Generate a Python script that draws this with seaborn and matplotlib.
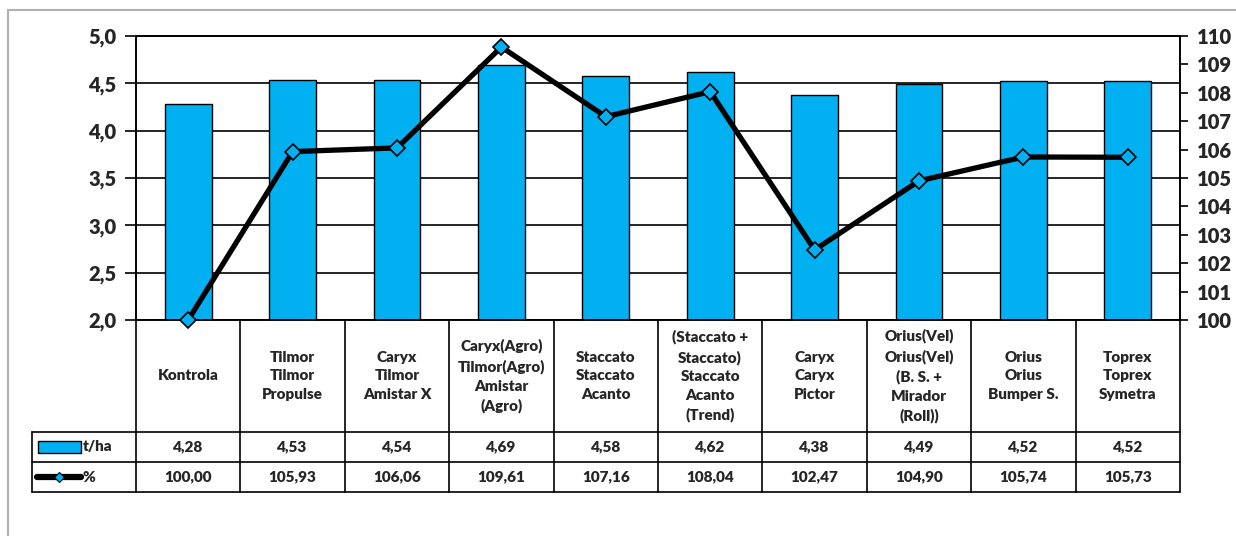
import numpy as np
import pandas as pd
import seaborn as sns
import matplotlib.pyplot as plt
from matplotlib.transforms import blended_transform_factory
from matplotlib.patches import Rectangle
from matplotlib.lines import Line2D

# -----------------------------
# data
# -----------------------------
treatments = [
    "Kontrola",
    "Tilmor\nTilmor\nPropulse",
    "Caryx\nTilmor\nAmistar X",
    "Caryx(Agro)\nTilmor(Agro)\nAmistar\n(Agro)",
    "Staccato\nStaccato\nAcanto",
    "(Staccato +\nStaccato)\nStaccato\nAcanto\n(Trend)",
    "Caryx\nCaryx\nPictor",
    "Orius(Vel)\nOrius(Vel)\n(B. S. +\nMirador\n(Roll))",
    "Orius\nOrius\nBumper S.",
    "Toprex\nToprex\nSymetra",
]
yield_tha = [4.28, 4.53, 4.54, 4.69, 4.58, 4.62, 4.38, 4.49, 4.52, 4.52]
yield_pct = [100.00, 105.93, 106.06, 109.61, 107.16, 108.04, 102.47, 104.90, 105.74, 105.73]
left_ticks = [2.0, 2.5, 3.0, 3.5, 4.0, 4.5, 5.0]
right_ticks = list(range(100, 111))

df = pd.DataFrame({"pos": np.arange(len(treatments)), "tha": yield_tha, "pct": yield_pct})

BLUE = "#00B0F0"

sns.set_style("white")
plt.rcParams["font.family"] = ["Lato", "DejaVu Sans"]
plt.rcParams["font.weight"] = "bold"

fig = plt.figure(figsize=(12.36, 5.36), dpi=100)
W, H = 1236, 536
ax = fig.add_axes([136 / W, 1 - 320 / H, (1180 - 136) / W, (320 - 36) / H])

# outer grey frame
fig.patches.append(Rectangle((8 / W, -0.1), 1.2, 1 - 10 / H + 0.1, transform=fig.transFigure,
                             fill=False, edgecolor="#b0b0b0", lw=1.5))

# -----------------------------
# bars (t/ha)
# -----------------------------
sns.barplot(data=df, x="pos", y="tha", color=BLUE, saturation=1, width=0.45,
            edgecolor="black", linewidth=1, ax=ax, zorder=2)
ax.set_xlim(-0.5, 9.5)
ax.set_ylim(2.0, 5.0)
ax.set_yticks(left_ticks)
ax.set_yticklabels([f"{v:.1f}".replace(".", ",") for v in left_ticks], fontsize=14.5, fontweight="heavy")
ax.yaxis.grid(True, color="black", lw=1.2, zorder=0)
ax.set_axisbelow(True)
ax.set_xticks([])
ax.set_xlabel("")
ax.set_ylabel("")
ax.tick_params(axis="y", length=8, width=1.2, color="black", pad=6)
for s in ax.spines.values():
    s.set_color("black")
    s.set_linewidth(1.2)

# -----------------------------
# line (%)
# -----------------------------
ax2 = ax.twinx()
sns.lineplot(data=df, x="pos", y="pct", color="black", lw=3.8, marker="D", markersize=8,
             markerfacecolor=BLUE, markeredgecolor="black", markeredgewidth=1.2, ax=ax2,
             clip_on=False, zorder=5)
ax2.set_ylim(100, 110)
ax2.set_yticks(right_ticks)
ax2.set_yticklabels([str(v) for v in right_ticks], fontsize=14.5, fontweight="heavy")
ax2.tick_params(axis="y", length=6, width=1.2, color="black", pad=6)
ax2.set_xlim(-0.5, 9.5)
ax2.set_ylabel("")
ax2.set_xlabel("")
for s in ax2.spines.values():
    s.set_color("black")
    s.set_linewidth(1.2)

# -----------------------------
# data table under the chart
# -----------------------------
tr = blended_transform_factory(ax.transData, ax.transAxes)
ah = 320 - 36
y_cat = 0.0
y_r1 = -(432 - 320) / ah
y_r2 = -(462 - 320) / ah
y_r3 = -(492 - 320) / ah
n = len(treatments)

def hline(x0, x1, y):
    ax.add_line(Line2D([x0, x1], [y, y], transform=tr, color="black", lw=1.2, clip_on=False))

def vline(x, y0, y1):
    ax.add_line(Line2D([x, x], [y0, y1], transform=tr, color="black", lw=1.2, clip_on=False))

hline(-1.5, n - 0.5, y_r1)
hline(-1.5, n - 0.5, y_r2)
hline(-1.5, n - 0.5, y_r3)
for i in range(n + 1):
    vline(i - 0.5, y_r3, y_cat)
vline(-1.5, y_r3, y_r1)

fs = 11
for i, name in enumerate(treatments):
    ax.text(i, (y_cat + y_r1) / 2, name, transform=tr, ha="center", va="center",
            fontsize=fs, fontweight="heavy", linespacing=1.5)
    ax.text(i, (y_r1 + y_r2) / 2, f"{yield_tha[i]:.2f}".replace(".", ","), transform=tr,
            ha="center", va="center", fontsize=fs, fontweight="heavy")
    ax.text(i, (y_r2 + y_r3) / 2, f"{yield_pct[i]:.2f}".replace(".", ","), transform=tr,
            ha="center", va="center", fontsize=fs, fontweight="heavy")

# legend keys in the table
ym1 = (y_r1 + y_r2) / 2
ym2 = (y_r2 + y_r3) / 2
ax.add_patch(Rectangle((-1.44, ym1 - 0.022), 0.41, 0.044, transform=tr, facecolor=BLUE,
                       edgecolor="black", lw=1, clip_on=False))
ax.text(-1.01, ym1, "t/ha", transform=tr, ha="left", va="center", fontsize=fs, fontweight="heavy")
ax.add_line(Line2D([-1.45, -1.03], [ym2, ym2], transform=tr, color="black", lw=4.5,
                   solid_capstyle="round", clip_on=False))
ax.add_line(Line2D([-1.24], [ym2], transform=tr, marker="D", markersize=5, color=BLUE,
                   markeredgecolor="black", markeredgewidth=0.8, clip_on=False))
ax.text(-1.01, ym2, "%", transform=tr, ha="left", va="center", fontsize=fs, fontweight="heavy")

fig.savefig("out.png", dpi=100)
